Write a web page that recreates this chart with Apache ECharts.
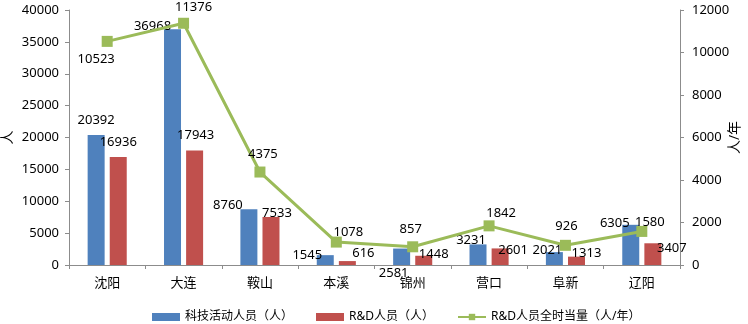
<!DOCTYPE html>
<html>
<head>
<meta charset="utf-8">
<script src="https://cdn.jsdelivr.net/npm/echarts@6/dist/echarts.min.js"></script>
<style>
  html, body { margin: 0; padding: 0; background: #fff; }
  #chart { width: 748px; height: 324px; }
</style>
</head>
<body>
<div id="chart"></div>
<script>
// 数据
let cities = ['沈阳', '大连', '鞍山', '本溪', '锦州', '营口', '阜新', '辽阳'];
let techStaff = [20392, 36968, 8760, 1545, 2581, 3231, 2021, 6305];
let rdStaff = [16936, 17943, 7533, 616, 1448, 2601, 1313, 3407];
let rdFullTime = [10523, 11376, 4375, 1078, 857, 1842, 926, 1580];

// 标签偏移（仿照原图中标签的位置）
let techOffset = [[0, -3], [-20, 8], [-21, 8], [-18, 12], [-8, 36], [-7, 7], [-7, 10], [-16, 10]];
let rdOffset = [[0, -3], [1, -4], [6, 8], [16, 4], [10, 10], [13, 13], [10, 8], [19, 17]];
let lineOffset = [[-11, 35], [10, 1], [3, -1], [12, 7], [-2, 0], [12, 4], [1, -2], [8, 8]];

function withOffsets(values, offsets) {
    return values.map(function (v, i) {
        return { value: v, label: { offset: offsets[i] } };
    });
}

function plain(v) {
    return String(v);
}

let font = '"Noto Sans", "Noto Sans CJK SC", sans-serif';
let axisColor = '#8c8c8c';

let myChart = echarts.init(document.getElementById('chart'));

let option = {
    animation: false,
    textStyle: { fontFamily: font, color: '#000' },
    grid: { left: 69, right: 68, top: 10, bottom: 59, containLabel: false, outerBoundsMode: 'none' },
    legend: {
        left: 147,
        top: 306,
        itemGap: 23,
        itemWidth: 28,
        itemHeight: 8,
        textStyle: { fontSize: 12, color: '#000', fontFamily: font },
        data: [
            { name: '科技活动人员（人）', icon: 'rect' },
            { name: 'R&D人员（人）', icon: 'rect' },
            { name: 'R&D人员全时当量（人/年）' }
        ]
    },
    xAxis: {
        type: 'category',
        data: cities,
        axisLine: { lineStyle: { color: axisColor } },
        axisTick: { show: true, length: 4, lineStyle: { color: axisColor } },
        axisLabel: { color: '#000', fontSize: 13, margin: 12 }
    },
    yAxis: [{
        type: 'value',
        name: '人',
        nameLocation: 'middle',
        nameRotate: 90,
        nameGap: 54,
        nameMoveOverlap: false,
        nameTextStyle: { fontSize: 14, color: '#000' },
        min: 0,
        max: 40000,
        interval: 5000,
        splitLine: { show: false },
        axisLine: { show: true, lineStyle: { color: axisColor } },
        axisTick: { show: true, length: 4, lineStyle: { color: axisColor } },
        axisLabel: { color: '#000', fontSize: 13, margin: 10, formatter: plain }
    }, {
        type: 'value',
        name: '人/年',
        nameLocation: 'middle',
        nameRotate: 90,
        nameGap: 48,
        nameMoveOverlap: false,
        nameTextStyle: { fontSize: 14, color: '#000' },
        min: 0,
        max: 12000,
        interval: 2000,
        splitLine: { show: false },
        axisLine: { show: true, lineStyle: { color: axisColor } },
        axisTick: { show: true, length: 4, lineStyle: { color: axisColor } },
        axisLabel: { color: '#000', fontSize: 13, margin: 12, formatter: plain }
    }],
    series: [{
        name: '科技活动人员（人）',
        type: 'bar',
        barWidth: 17,
        barGap: '30%',
        itemStyle: { color: '#4f81bd' },
        label: { show: true, position: 'top', color: '#000', fontSize: 13 },
        data: withOffsets(techStaff, techOffset)
    }, {
        name: 'R&D人员（人）',
        type: 'bar',
        barWidth: 17,
        itemStyle: { color: '#c0504d' },
        label: { show: true, position: 'top', color: '#000', fontSize: 13 },
        data: withOffsets(rdStaff, rdOffset)
    }, {
        name: 'R&D人员全时当量（人/年）',
        type: 'line',
        yAxisIndex: 1,
        symbol: 'rect',
        symbolSize: 11,
        lineStyle: { color: '#9bbb59', width: 3 },
        itemStyle: { color: '#9bbb59' },
        label: { show: true, position: 'top', color: '#000', fontSize: 13 },
        data: withOffsets(rdFullTime, lineOffset)
    }]
};
myChart.setOption(option);
</script>
</body>
</html>
